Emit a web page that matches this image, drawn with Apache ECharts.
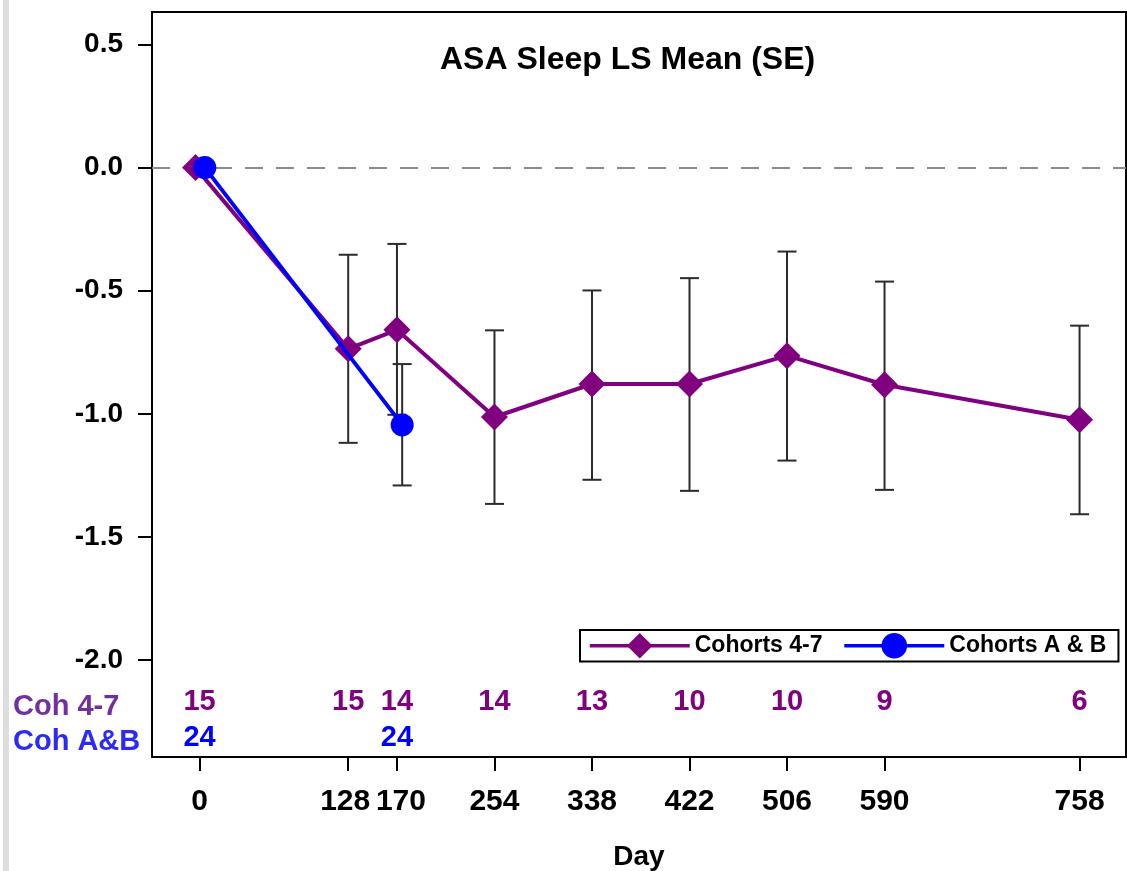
<!DOCTYPE html>
<html>
<head>
<meta charset="utf-8">
<script src="https://cdn.jsdelivr.net/npm/echarts@6/dist/echarts.min.js"></script>
<style>
  html, body {margin: 0; padding: 0; background: #fff;}
  #chart {width: 1127px; height: 871px;}
</style>
</head>
<body>
<div id="chart"></div>
<script>
// data
const days = [0, 128, 170, 254, 338, 422, 506, 590, 758];
const cohMean = [0, -0.736, -0.659, -1.013, -0.879, -0.879, -0.764, -0.882, -1.024];
const cohLow = [null, -1.118, -1.004, -1.366, -1.268, -1.313, -1.190, -1.309, -1.408];
const cohHigh = [null, -0.354, -0.310, -0.661, -0.499, -0.449, -0.341, -0.463, -0.642];
const cohN = [15, 15, 14, 14, 13, 10, 10, 9, 6];

const abDays = [0, 170];
const abMean = [0, -1.045];
const abLow = [null, -1.291];
const abHigh = [null, -0.798];
const abN = [24, 24];

const yTicks = [0.5, 0, -0.5, -1, -1.5, -2];

const PURPLE = '#800080';
const BLUE = '#0000ff';
const FONT = "'Liberation Sans', Arial, sans-serif";
// small horizontal shift so the two groups don't sit on top of each other
const abShift = 4.5;
const cohShift = d => (d === 0 ? -3.5 : 0);
const ROW_COH = -2.17;
const ROW_AB = -2.316;

const cohPts = days.map((d, i) => [d + cohShift(d), cohMean[i]]);
const abPts = abDays.map((d, i) => [d + abShift, abMean[i]]);
const cohBars = days.map((d, i) => [d + cohShift(d), cohLow[i], cohHigh[i]]).filter(r => r[1] != null);
const abBars = abDays.map((d, i) => [d + abShift, abLow[i], abHigh[i]]).filter(r => r[1] != null);

function errBar(params, api) {
  const lo = api.coord([api.value(0), api.value(1)]);
  const hi = api.coord([api.value(0), api.value(2)]);
  const w = 9.5;
  const st = {stroke: '#2b2b2b', lineWidth: 2};
  return {
    type: 'group',
    children: [
      {type: 'line', shape: {x1: lo[0], y1: lo[1], x2: hi[0], y2: hi[1]}, style: st},
      {type: 'line', shape: {x1: lo[0] - w, y1: lo[1], x2: lo[0] + w, y2: lo[1]}, style: st},
      {type: 'line', shape: {x1: hi[0] - w, y1: hi[1], x2: hi[0] + w, y2: hi[1]}, style: st}
    ]
  };
}

const countLabel = color => ({
  show: true, position: 'inside', formatter: p => p.value[2],
  fontSize: 29, fontWeight: 'bold', color: color, fontFamily: FONT, opacity: 1
});

// 128 and 170 are close together: nudge them apart like the original
const xLabelFmt = v => (v === 128 ? '{l|128}' : v === 170 ? '{r|170}' : String(v));

const chart = echarts.init(document.getElementById('chart'));
chart.setOption({
  animation: false,
  textStyle: {fontFamily: FONT},
  title: {
    text: 'ASA Sleep LS Mean (SE)',
    left: 435, top: 39,
    textStyle: {fontSize: 32, fontWeight: 'bold', color: '#000', fontFamily: FONT}
  },
  legend: {
    left: 580, top: 630,
    data: ['Cohorts 4-7', 'Cohorts A & B'],
    borderColor: '#000', borderWidth: 2,
    padding: [3, 12, 3, 8],
    itemWidth: 100, itemHeight: 32, itemGap: 20,
    lineStyle: {width: 3.5},
    textStyle: {fontSize: 23, fontWeight: 'bold', color: '#000', fontFamily: FONT}
  },
  grid: {
    left: 152, right: 1, top: 12, bottom: 114,
    outerBoundsMode: 'none',
    show: true, borderColor: '#000', borderWidth: 2
  },
  xAxis: {
    type: 'value', min: -41, max: 798,
    name: 'Day', nameLocation: 'middle', nameGap: 86,
    nameTextStyle: {fontSize: 28, fontWeight: 'bold', color: '#000', fontFamily: FONT},
    axisLine: {onZero: false, lineStyle: {color: '#000', width: 2}},
    axisTick: {show: true, customValues: days, length: 14, lineStyle: {color: '#000', width: 2}},
    axisLabel: {
      customValues: days, margin: 30, fontSize: 30, fontWeight: 'bold', color: '#000', fontFamily: FONT,
      formatter: xLabelFmt,
      rich: {
        l: {fontSize: 30, fontWeight: 'bold', fontFamily: FONT, padding: [0, 6, 0, 0]},
        r: {fontSize: 30, fontWeight: 'bold', fontFamily: FONT, padding: [0, 0, 0, 8]}
      }
    },
    splitLine: {show: false}
  },
  yAxis: {
    type: 'value', min: -2.394, max: 0.632,
    axisLine: {show: true, onZero: false, lineStyle: {color: '#000', width: 2}},
    axisTick: {show: true, customValues: yTicks, length: 14, lineStyle: {color: '#000', width: 2}},
    axisLabel: {
      customValues: yTicks, margin: 29, fontSize: 28, fontWeight: 'bold', color: '#000', fontFamily: FONT,
      formatter: v => v.toFixed(1)
    },
    splitLine: {show: false}
  },
  graphic: [
    {type: 'rect', left: 3, top: 0, shape: {width: 6, height: 871}, style: {fill: '#dedede'}},
    {type: 'text', left: 13, top: 692, style: {text: 'Coh 4-7', fill: '#7030a0', font: 'bold 29px ' + FONT}},
    {type: 'text', left: 13, top: 727, style: {text: 'Coh A&B', fill: '#2b2bf5', font: 'bold 29px ' + FONT}}
  ],
  series: [
    {
      type: 'custom', name: 'errCoh', renderItem: errBar, data: cohBars, z: 2,
      encode: {x: 0, y: [1, 2]}, silent: true
    },
    {
      type: 'custom', name: 'errAB', renderItem: errBar, data: abBars, z: 2,
      encode: {x: 0, y: [1, 2]}, silent: true
    },
    {
      type: 'line', name: 'Cohorts 4-7', data: cohPts, z: 3,
      symbol: 'diamond', symbolSize: 27,
      lineStyle: {color: PURPLE, width: 4}, itemStyle: {color: PURPLE},
      markLine: {
        silent: true, symbol: 'none', label: {show: false},
        lineStyle: {color: '#8c8c8c', type: [18, 13], width: 2},
        data: [{yAxis: 0}], z: 1
      }
    },
    {
      type: 'line', name: 'Cohorts A & B', data: abPts, z: 4,
      symbol: 'circle', symbolSize: 23,
      lineStyle: {color: BLUE, width: 4}, itemStyle: {color: BLUE}
    },
    {
      type: 'scatter', name: 'nCoh', symbolSize: 0, silent: true,
      itemStyle: {opacity: 1},
      data: days.map((d, i) => [d, ROW_COH, cohN[i]]),
      label: countLabel(PURPLE)
    },
    {
      type: 'scatter', name: 'nAB', symbolSize: 0, silent: true,
      itemStyle: {opacity: 1},
      data: abDays.map((d, i) => [d, ROW_AB, abN[i]]),
      label: countLabel(BLUE)
    }
  ]
});
</script>
</body>
</html>
